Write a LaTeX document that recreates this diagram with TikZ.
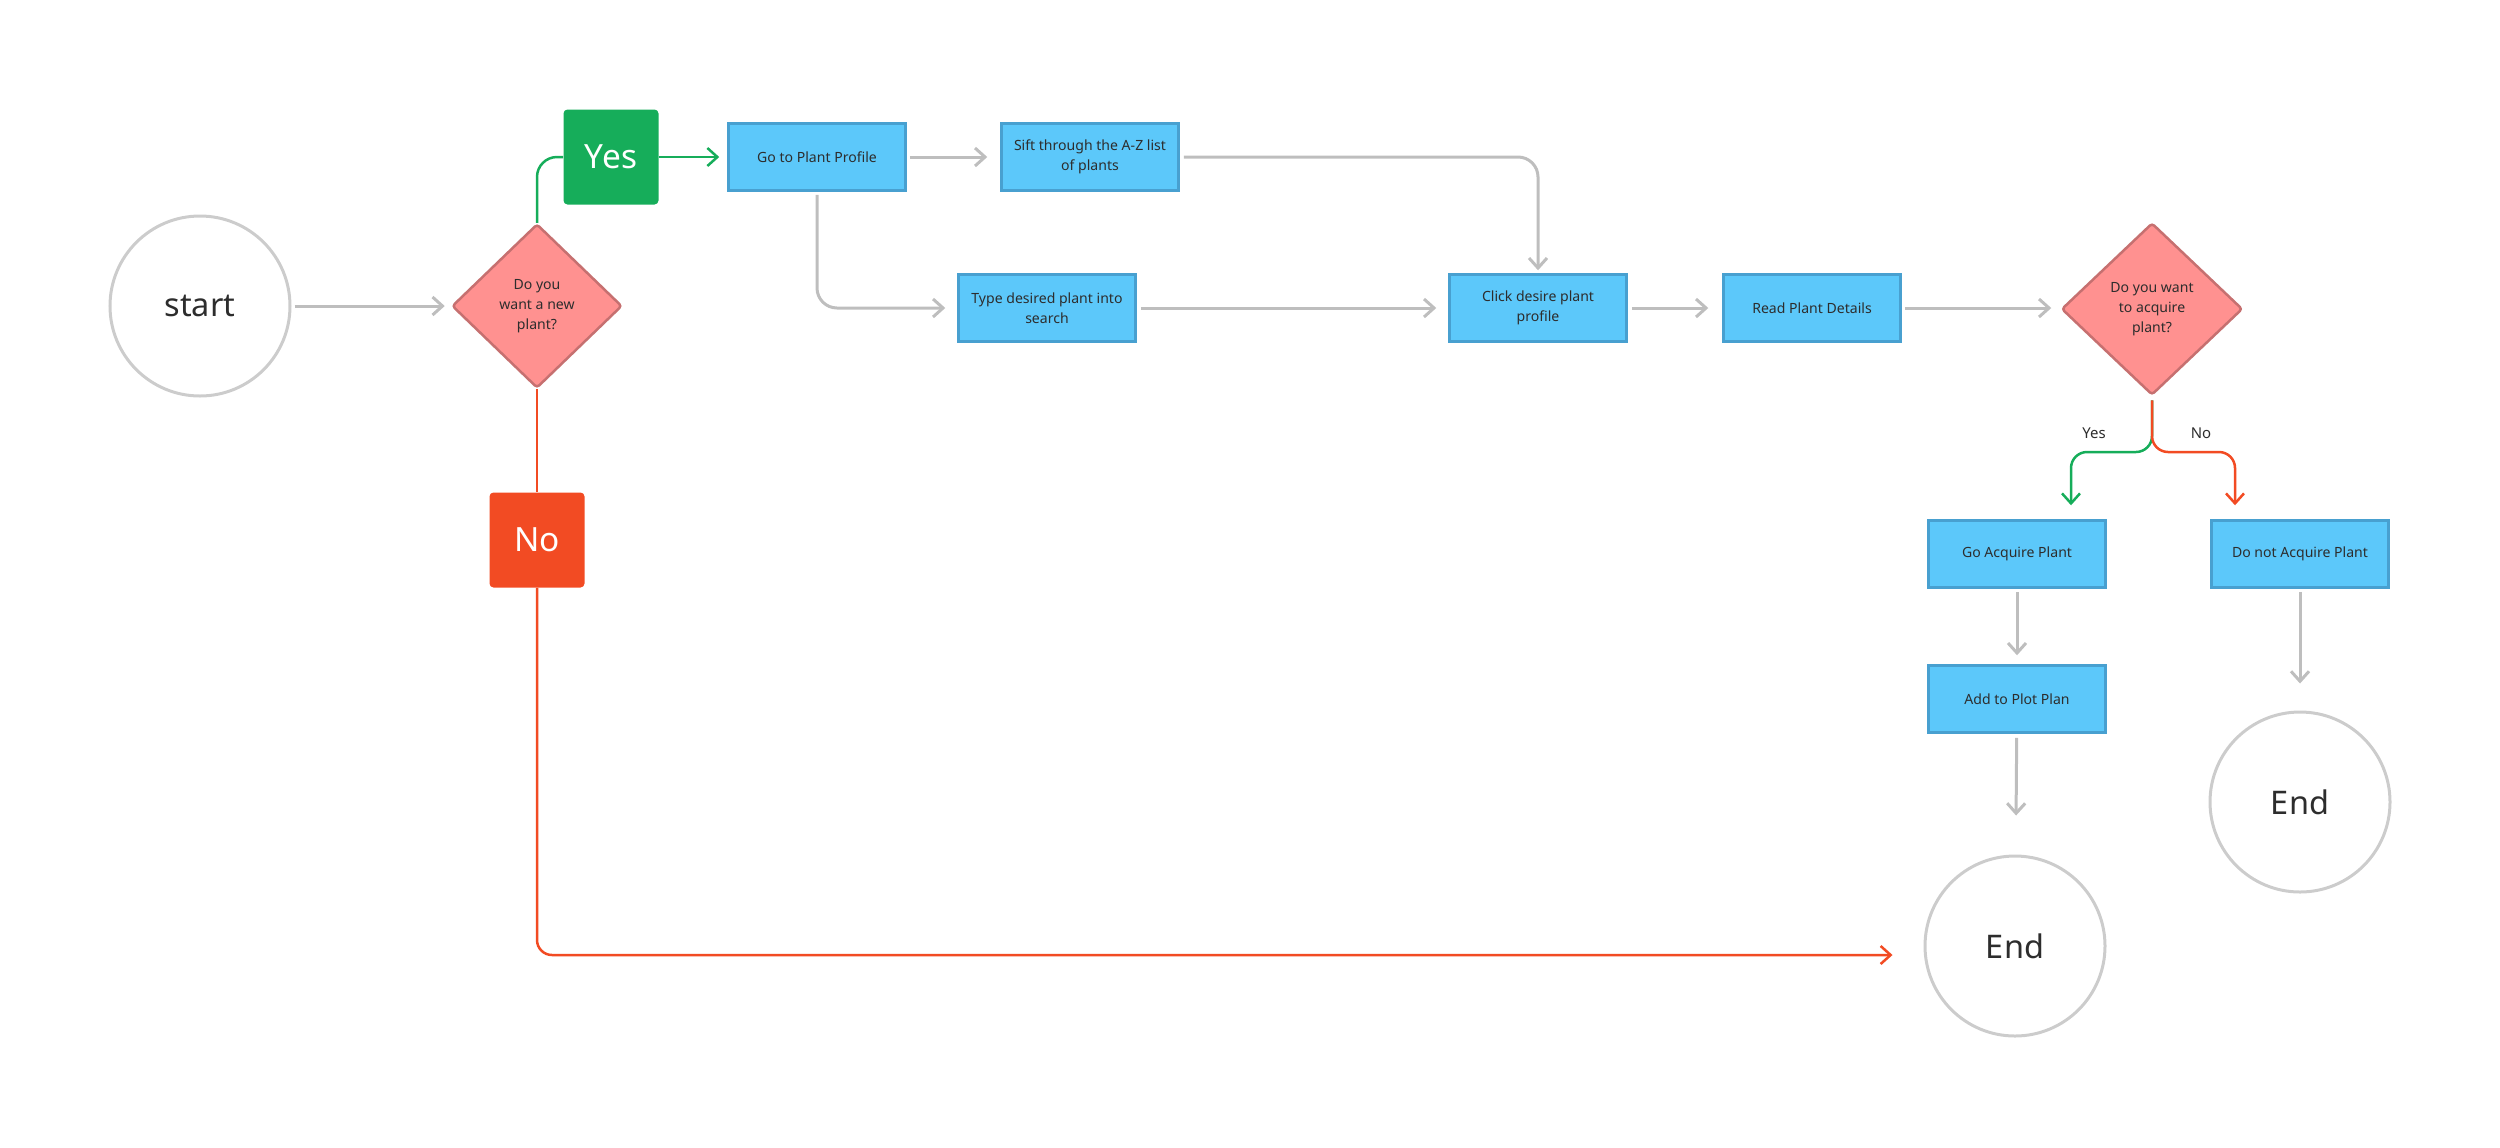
\documentclass[tikz,border=0pt]{standalone}
\usepackage{fontspec}
\setmainfont{Noto Sans}
\usetikzlibrary{positioning, arrows.meta, shapes.geometric}

\definecolor{lineGray}{RGB}{190,190,190}
\definecolor{ringGray}{RGB}{204,204,204}
\definecolor{boxBlue}{RGB}{92,200,250}
\definecolor{boxEdge}{RGB}{72,160,208}
\definecolor{diaPink}{RGB}{255,145,144}
\definecolor{diaEdge}{RGB}{198,112,112}
\definecolor{yesGreen}{RGB}{22,173,90}
\definecolor{noRed}{RGB}{242,75,35}
\definecolor{inkGray}{RGB}{45,45,45}

\begin{document}
\begin{tikzpicture}[
    x=0.2mm, y=-0.2mm,
    font=\fontsize{8}{11.4}\selectfont, text=inkGray,
    procbox/.style={rectangle, draw=boxEdge, fill=boxBlue, line width=0.5mm, minimum width=35.4mm, minimum height=13.4mm, align=center, inner sep=0pt},
    decision/.style={diamond, draw=diaEdge, fill=diaPink, line width=0.5mm, rounded corners=0.6mm, align=center, inner sep=0pt},
    terminal/.style={circle, draw=ringGray, line width=0.6mm, minimum size=36mm, font=\fontsize{18.5}{22}\selectfont},
    answer/.style={rectangle, rounded corners=0.8mm, minimum size=19mm, text=white, font=\fontsize{19}{22}\selectfont},
    chevron/.style={-{Straight Barb[length=2mm, width=3.6mm]}},
    arrow/.style={chevron, line width=0.6mm, lineGray},
    yesline/.style={line width=0.5mm, yesGreen},
    noline/.style={line width=0.5mm, noRed},
    branch/.style={font=\fontsize{8.5}{10}\selectfont}
]
\useasboundingbox (0,0) rectangle (2500,1147);

% === FIRST QUESTION ===
\node[terminal] (start) at (200, 306) {start};
\node[decision, minimum width=34mm, minimum height=32.8mm] (want) at (537, 306) {Do you\\want a new\\plant?};
\node[answer, fill=yesGreen] (yes) at (611, 157) {Yes};
\node[answer, fill=noRed] (no) at (537, 540) {No};

% === FINDING A PLANT ===
\node[procbox] (profile) at (817, 157) {Go to Plant Profile};
\node[procbox] (sift) at (1090, 157) {Sift through the A-Z list\\of plants};
\node[procbox] (type) at (1047, 308) {Type desired plant into\\search};
\node[procbox] (click) at (1538, 308) {Click desire plant\\profile};
\node[procbox] (details) at (1812, 308) {Read Plant Details};

% === SECOND QUESTION ===
\node[decision, minimum width=36.2mm, minimum height=34.4mm] (acquire) at (2152, 309) {Do you want\\to acquire\\plant?};
\coordinate (split) at (2152, 452);
\node[branch] (yeslabel) at (2094, 433) {Yes};
\node[branch] (nolabel) at (2201, 433) {No};
\node[procbox] (goacq) at (2017, 554) {Go Acquire Plant};
\node[procbox] (notacq) at (2300, 554) {Do not Acquire Plant};
\node[procbox] (plot) at (2017, 699) {Add to Plot Plan};
\node[terminal] (end1) at (2015, 946) {End};
\node[terminal] (end2) at (2300, 802) {End};

% Arrows
\draw[arrow, shorten <=0.6mm, shorten >=1.2mm] (start) -- (want);
\draw[yesline, rounded corners=4mm] (want.north) |- (yes.west);
\draw[yesline, chevron, shorten >=1.6mm] (yes) -- (profile);
\draw[arrow, shorten <=0.6mm, shorten >=2.6mm] (profile) -- (sift);
\draw[arrow, rounded corners=4mm, shorten <=0.8mm, shorten >=0.6mm] (sift) -| (click);
\draw[arrow, rounded corners=4mm, shorten <=0.6mm, shorten >=2.4mm] (profile) |- (type);
\draw[arrow, shorten <=0.8mm, shorten >=2.4mm] (type) -- (click);
\draw[arrow, shorten <=0.8mm, shorten >=2.8mm] (click) -- (details);
\draw[arrow, shorten <=0.6mm, shorten >=1.8mm] (details.east) -- (details.east -| acquire.west);

% Branches
\draw[yesline, chevron, rounded corners=3.2mm, shorten <=0.8mm, shorten >=2.8mm] (acquire.south) -- (split) -| ([xshift=10.8mm]goacq.north);
\draw[noline, chevron, rounded corners=3.2mm, shorten <=0.8mm, shorten >=2.8mm] (acquire.south) -- (split) -| ([xshift=-13mm]notacq.north);
\draw[arrow, shorten <=0.6mm, shorten >=1.8mm] (goacq) -- (plot);
\draw[arrow, shorten <=0.8mm, shorten >=7.8mm] (plot) -- (end1);
\draw[arrow, shorten <=0.6mm, shorten >=5.4mm] (notacq) -- (end2);

% No path
\draw[noline] (want) -- (no);
\draw[noline, chevron, rounded corners=3mm, shorten >=6.2mm] (no) |- ([yshift=-1.8mm]end1.west);

\end{tikzpicture}
\end{document}
